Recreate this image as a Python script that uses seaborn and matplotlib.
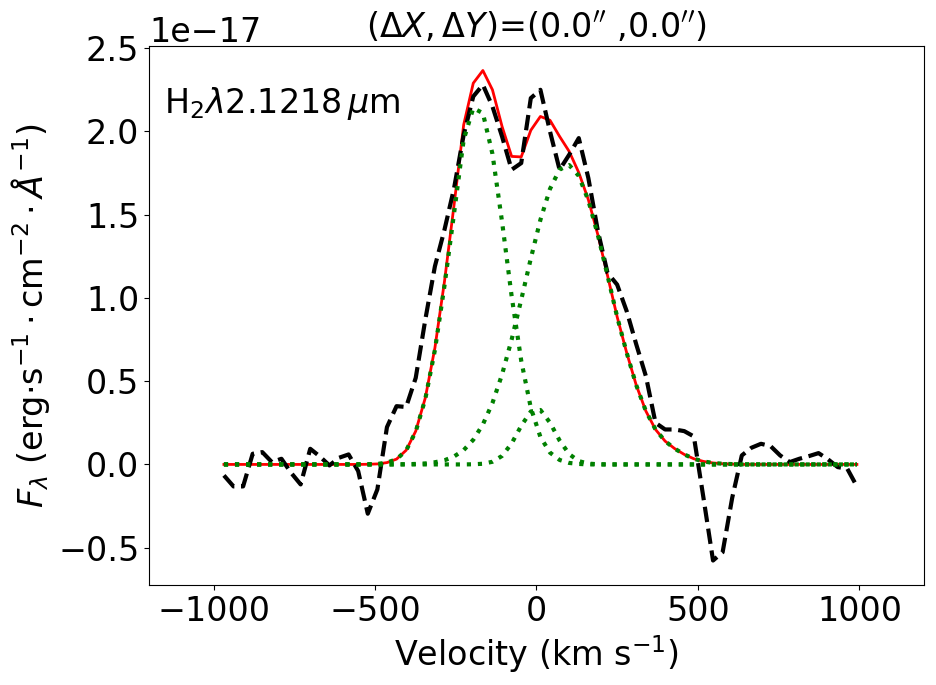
import matplotlib
matplotlib.use("Agg")
import matplotlib.pyplot as plt
import seaborn as sns
import numpy as np

# Velocity grid (km/s)
velocity = [-968.0, -938.3, -908.6, -878.9, -849.2, -819.5, -789.8, -760.1, -730.4, -700.7,
            -671.0, -641.3, -611.6, -581.9, -552.2, -522.5, -492.8, -463.1, -433.4, -403.7,
            -374.0, -344.3, -314.6, -284.9, -255.2, -225.5, -195.8, -166.1, -136.4, -106.7,
            -77.0, -47.3, -17.6, 12.1, 41.8, 71.5, 101.2, 130.9, 160.6, 190.3,
            220.0, 249.7, 279.4, 309.1, 338.8, 368.5, 398.2, 427.9, 457.6, 487.3,
            517.0, 546.7, 576.4, 606.1, 635.8, 665.5, 695.2, 724.9, 754.6, 784.3,
            814.0, 843.7, 873.4, 903.1, 932.8, 962.5, 992.2]

# Observed spectrum (units of 1e-17)
flux_obs = [-0.066, -0.132, -0.132, 0.064, 0.074, 0.014, 0.034, -0.05, -0.12, 0.094,
            0.048, -0.006, 0.04, 0.06, -0.04, -0.296, -0.15, 0.224, 0.35, 0.345,
            0.52, 0.87, 1.19, 1.41, 1.66, 1.98, 2.21, 2.28, 2.15, 1.97,
            1.77, 1.81, 2.20, 2.25, 2.00, 1.77, 1.86, 1.96, 1.72, 1.40,
            1.15, 1.08, 0.92, 0.72, 0.53, 0.25, 0.21, 0.21, 0.20, 0.168,
            -0.20, -0.577, -0.527, -0.20, 0.054, 0.10, 0.124, 0.11, 0.054, 0.014,
            0.034, 0.05, 0.068, 0.03, -0.016, -0.026, -0.132]

# Total fit (units of 1e-17)
flux_fit = [0.0, 0.0, 0.0, 0.0, 0.0, 0.0, 0.0, 0.0, 0.0, 0.0,
            0.0, 0.0, 0.0, 0.0, 0.0, 0.001, 0.003, 0.011, 0.032, 0.085,
            0.20, 0.40, 0.70, 1.10, 1.56, 2.04, 2.29, 2.366, 2.25, 2.03,
            1.85, 1.847, 2.007, 2.09, 2.067, 1.97, 1.88, 1.753, 1.59, 1.377,
            1.134, 0.887, 0.67, 0.475, 0.32, 0.21, 0.14, 0.095, 0.06, 0.034,
            0.018, 0.009, 0.004, 0.002, 0.0, 0.0, 0.0, 0.0, 0.0, 0.0,
            0.0, 0.0, 0.0, 0.0, 0.0, 0.0, 0.0]

# Gaussian components (units of 1e-17)
comp_blue = [0.0, 0.0, 0.0, 0.0, 0.0, 0.0, 0.0, 0.0, 0.0, 0.0,
             0.0, 0.0, 0.0, 0.0, 0.0, 0.001, 0.003, 0.011, 0.031, 0.084,
             0.197, 0.394, 0.687, 1.075, 1.51, 1.95, 2.14, 2.11, 1.865, 1.458,
             1.011, 0.623, 0.340, 0.165, 0.071, 0.027, 0.009, 0.003, 0.0, 0.0,
             0.0, 0.0, 0.0, 0.0, 0.0, 0.0, 0.0, 0.0, 0.0, 0.0,
             0.0, 0.0, 0.0, 0.0, 0.0, 0.0, 0.0, 0.0, 0.0, 0.0,
             0.0, 0.0, 0.0, 0.0, 0.0, 0.0, 0.0]

comp_red = [0.0, 0.0, 0.0, 0.0, 0.0, 0.0, 0.0, 0.0, 0.0, 0.0,
            0.0, 0.0, 0.0, 0.0, 0.0, 0.0, 0.0, 0.0, 0.001, 0.001,
            0.003, 0.006, 0.013, 0.025, 0.048, 0.086, 0.148, 0.240, 0.369, 0.540,
            0.750, 0.989, 1.237, 1.469, 1.655, 1.771, 1.798, 1.733, 1.585, 1.376,
            1.134, 0.887, 0.67, 0.475, 0.32, 0.21, 0.14, 0.095, 0.06, 0.034,
            0.018, 0.009, 0.004, 0.002, 0.0, 0.0, 0.0, 0.0, 0.0, 0.0,
            0.0, 0.0, 0.0, 0.0, 0.0, 0.0, 0.0]

comp_mid = [0.0, 0.0, 0.0, 0.0, 0.0, 0.0, 0.0, 0.0, 0.0, 0.0,
            0.0, 0.0, 0.0, 0.0, 0.0, 0.0, 0.0, 0.0, 0.0, 0.0,
            0.0, 0.0, 0.0, 0.0, 0.0, 0.0, 0.001, 0.004, 0.016, 0.051,
            0.126, 0.232, 0.318, 0.327, 0.251, 0.144, 0.062, 0.020, 0.005, 0.001,
            0.0, 0.0, 0.0, 0.0, 0.0, 0.0, 0.0, 0.0, 0.0, 0.0,
            0.0, 0.0, 0.0, 0.0, 0.0, 0.0, 0.0, 0.0, 0.0, 0.0,
            0.0, 0.0, 0.0, 0.0, 0.0, 0.0, 0.0]

scale = 1e-17

fig, ax = plt.subplots(figsize=(9.37, 6.85), dpi=100)
fig.subplots_adjust(left=149 / 937, right=924 / 937, top=1 - 46 / 685, bottom=1 - 585 / 685)

v = np.array(velocity)
sns.lineplot(x=v, y=np.array(flux_fit) * scale, color="r", linewidth=2,
             estimator=None, sort=False, ax=ax)
sns.lineplot(x=v, y=np.array(flux_obs) * scale, color="k", linewidth=3,
             linestyle="--", estimator=None, sort=False, ax=ax)
for comp in (comp_blue, comp_red, comp_mid):
    sns.lineplot(x=v, y=np.array(comp) * scale, color="g", linewidth=3,
                 linestyle=":", estimator=None, sort=False, ax=ax)

ax.set_xlim(-1200, 1200)
ax.tick_params(labelsize=24)
ax.yaxis.get_offset_text().set_fontsize(24)
ax.set_xlabel(r"Velocity (km s$^{-1}$)", fontsize=24)
ax.set_ylabel(r"$F_\lambda$ (erg$\cdot$s$^{-1}\cdot$cm$^{-2}\cdot\AA^{-1}$)", fontsize=24)
ax.set_title(r"$(\Delta X,\Delta Y)$=(0.0$''$ ,0.0$''$)", fontsize=24)
ax.text(0.02, 0.876, r"H$_2\lambda$2.1218$\,\mu$m", transform=ax.transAxes,
        fontsize=24, ha="left", va="baseline")

fig.savefig("out.png", dpi=100)
